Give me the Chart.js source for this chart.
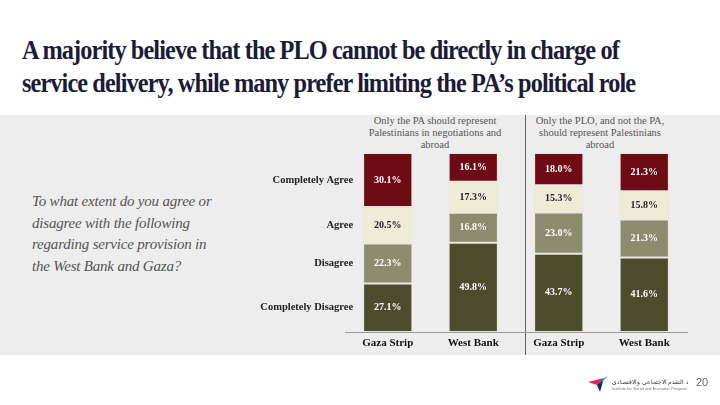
<!DOCTYPE html>
<html>
<head>
<meta charset="utf-8">
<script src="https://cdn.jsdelivr.net/npm/chart.js@4.4.1/dist/chart.umd.min.js"></script>
<style>
    html, body { margin: 0; padding: 0; background: #ffffff; }
    #page { position: relative; width: 720px; height: 405px; overflow: hidden; }
    #band { position: absolute; left: 0; top: 115px; width: 720px; height: 240px; background: #ededed; }
    #title {
        position: absolute; left: 22px; top: 34px; width: 800px;
        font-family: "Liberation Serif", serif; font-weight: bold; font-size: 27px;
        line-height: 33px; letter-spacing: -1px; color: #1c1c38;
        transform: scaleX(0.9); transform-origin: left top;
    }
    #question {
        position: absolute; left: 32px; top: 191px; width: 185px;
        font-family: "Liberation Serif", serif; font-style: italic; font-size: 15px;
        line-height: 21.7px; color: #555555; letter-spacing: -0.2px;
    }
    .group-title {
        position: absolute; top: 115px; width: 160px; text-align: center;
        font-family: "Liberation Serif", serif; font-size: 10.5px; line-height: 12px; color: #555555;
    }
    #divider { position: absolute; left: 525px; top: 115px; width: 1px; height: 240px; background: #666666; }
    #chartBox { position: absolute; left: 0; top: 0; width: 720px; height: 405px; }
    #pageNum { position: absolute; left: 696px; top: 376px; font-family: "Liberation Sans", sans-serif; font-size: 11px; color: #666; }
    #logo { position: absolute; left: 588px; top: 376px; }
</style>
</head>
<body>
<div id="page">
    <div id="band"></div>
    <div id="title">A majority believe that the PLO cannot be directly in charge of<br>service delivery, while many prefer limiting the PA’s political role</div>
    <div id="question">To what extent do you agree or disagree with the following regarding service provision in the West Bank and Gaza?</div>
    <div class="group-title" style="left:355px;">Only the PA should represent<br>Palestinians in negotiations and<br>abroad</div>
    <div class="group-title" style="left:520px;">Only the PLO, and not the PA,<br>should represent Palestinians<br>abroad</div>
    <div id="divider"></div>
    <div id="chartBox"><canvas id="chart" width="720" height="405"></canvas></div>
    <svg id="logo" width="100" height="20" viewBox="0 0 100 20">
        <polygon points="0,6 16,2 9,9" fill="#e0245e"/>
        <polygon points="16,2 9,9 12,16" fill="#1a2a5a"/>
        <polygon points="16,2 20,0 12,8" fill="#2ab3e6"/>
        <text x="24" y="8" font-size="6" font-family="Noto Sans" fill="#333">معهد التقدم الاجتماعي والاقتصادي</text>
        <text x="24" y="14" font-size="4" font-family="Liberation Sans" fill="#777">Institute for Social and Economic Progress</text>
    </svg>
    <div id="pageNum">20</div>
</div>
<script>
const categories = ["Gaza Strip", "West Bank", "Gaza Strip", "West Bank"];
const completelyDisagree = [27.1, 49.8, 43.7, 41.6];
const disagree = [22.3, 16.8, 23.0, 21.3];
const agree = [20.5, 17.3, 15.3, 15.8];
const completelyAgree = [30.1, 16.1, 18.0, 21.3];

const serif = "'Liberation Serif', serif";

// Row labels to the left of the first bar, and values inside each segment.
const segmentLabels = {
    id: "segmentLabels",
    afterDatasetsDraw(chart) {
        const ctx = chart.ctx;
        ctx.save();
        chart.data.datasets.forEach((ds, i) => {
            const meta = chart.getDatasetMeta(i);
            meta.data.forEach((bar, j) => {
                const cy = (bar.y + bar.base) / 2;
                ctx.font = "bold 10px " + serif;
                ctx.textAlign = "center";
                ctx.textBaseline = "middle";
                ctx.fillStyle = ds.textColor;
                ctx.fillText(ds.data[j].toFixed(1) + "%", bar.x, cy);
                if (j === 0) {
                    ctx.font = "bold 10.5px " + serif;
                    ctx.textAlign = "right";
                    ctx.fillStyle = "#222222";
                    ctx.fillText(ds.label, bar.x - bar.width / 2 - 10, cy);
                }
            });
        });
        ctx.restore();
    }
};

new Chart(document.getElementById("chart"), {
    type: "bar",
    data: {
        labels: categories,
        datasets: [
            { label: "Completely Disagree", data: completelyDisagree, backgroundColor: "#4a4d2c", textColor: "#ffffff" },
            { label: "Disagree", data: disagree, backgroundColor: "#8a8c6e", textColor: "#ffffff" },
            { label: "Agree", data: agree, backgroundColor: "#eeebd6", textColor: "#222222" },
            { label: "Completely Agree", data: completelyAgree, backgroundColor: "#6d0c14", textColor: "#ffffff" }
        ]
    },
    options: {
        responsive: false,
        animation: false,
        layout: { padding: { left: 345, right: 33, top: 153, bottom: 43 } },
        datasets: {
            bar: { barPercentage: 0.72, categoryPercentage: 0.8, borderColor: "#e6e4da", borderWidth: 1, borderSkipped: false }
        },
        plugins: { legend: { display: false }, tooltip: { enabled: false } },
        scales: {
            x: {
                stacked: true,
                grid: { display: false, drawTicks: false },
                border: { color: "#9a9a9a", width: 1 },
                ticks: { color: "#111111", font: { family: serif, weight: "bold", size: 11 }, padding: 5 },
                afterFit(scale) { scale.height = 30; }
            },
            y: { stacked: true, display: false, min: 0, max: 100 }
        }
    },
    plugins: [segmentLabels]
});
</script>
</body>
</html>
